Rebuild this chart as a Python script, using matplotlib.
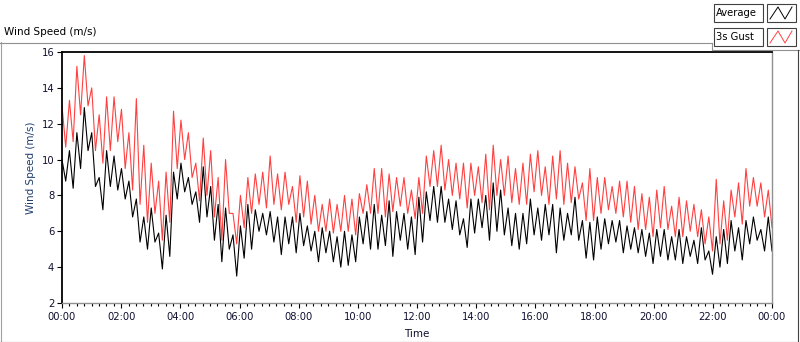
import numpy as np
import matplotlib
matplotlib.use("Agg")
import matplotlib.pyplot as plt
from matplotlib.patches import Rectangle
from matplotlib.lines import Line2D

W, H = 800, 342

# wind speed, 15 minute bins (low / high of the trace in each bin)
bin_hours = 0.25
avg_low = [8.8, 8.4, 9.5, 10.5, 8.5, 7.2, 8.5, 8.3, 7.8, 6.8, 5.4, 5.0,
           5.4, 3.9, 4.6, 7.8, 8.2, 7.5, 6.5, 6.8, 5.5, 4.3, 5.0, 3.5,
           4.5, 5.0, 6.0, 5.8, 5.4, 4.7, 5.3, 4.8, 5.2, 4.9, 4.3, 4.8,
           4.3, 4.0, 4.1, 4.3, 5.3, 5.0, 5.0, 5.2, 4.6, 5.5, 5.0, 4.7,
           5.4, 6.6, 6.5, 6.5, 6.1, 5.8, 5.1, 5.9, 6.2, 5.5, 6.0, 5.8,
           5.2, 5.0, 5.3, 5.8, 5.5, 5.8, 4.8, 5.5, 5.8, 5.5, 4.5, 4.4,
           5.0, 5.3, 5.4, 4.8, 5.0, 4.8, 4.6, 4.2, 4.6, 4.4, 4.4, 4.2,
           4.6, 4.2, 4.4, 3.6, 4.0, 4.2, 4.9, 4.4, 5.3, 5.5, 4.9, 4.9]
avg_high = [10.0, 10.5, 11.5, 12.9, 11.5, 9.0, 10.5, 10.2, 9.5, 8.8, 7.8, 6.8,
            7.3, 5.9, 6.9, 9.3, 9.8, 9.0, 8.2, 9.6, 8.5, 7.5, 7.3, 5.8,
            6.3, 7.5, 7.2, 7.0, 7.1, 6.8, 6.8, 6.8, 7.0, 6.3, 6.0, 6.2,
            6.0, 5.7, 6.0, 5.8, 6.8, 7.1, 7.5, 6.9, 7.7, 7.1, 7.0, 6.8,
            7.9, 8.2, 8.5, 8.5, 7.8, 7.7, 6.7, 7.8, 7.8, 8.0, 8.7, 8.3,
            7.3, 7.0, 7.0, 7.8, 7.3, 7.5, 7.5, 7.3, 7.0, 7.9, 6.6, 6.5,
            6.8, 6.7, 6.6, 6.6, 6.3, 6.2, 6.1, 5.9, 6.1, 6.1, 5.7, 6.1,
            5.7, 5.5, 6.2, 4.9, 5.7, 6.1, 6.6, 6.2, 6.6, 6.8, 6.1, 6.8]
gust_low = [10.7, 11.0, 12.5, 13.0, 10.5, 9.8, 10.5, 11.0, 9.5, 8.3, 7.5, 6.5,
            7.0, 5.5, 6.5, 9.5, 10.0, 9.0, 7.7, 8.0, 6.8, 5.5, 7.0, 5.3,
            6.2, 7.0, 7.5, 7.3, 7.5, 7.2, 7.5, 6.5, 6.8, 6.4, 6.0, 6.0,
            5.9, 6.0, 6.0, 5.8, 7.0, 7.0, 7.0, 6.8, 7.1, 7.4, 7.0, 6.7,
            7.0, 8.5, 8.5, 8.3, 8.0, 7.8, 7.3, 8.0, 7.6, 7.2, 8.0, 8.0,
            7.6, 7.5, 7.5, 8.2, 8.0, 7.5, 7.8, 7.5, 7.6, 7.8, 6.6, 6.6,
            7.0, 7.2, 7.0, 6.8, 6.5, 6.1, 6.1, 5.7, 6.2, 6.1, 5.7, 5.7,
            6.0, 5.7, 5.3, 4.9, 5.3, 5.5, 6.8, 6.4, 7.4, 7.4, 6.8, 6.2]
gust_high = [13.0, 13.3, 15.2, 15.8, 14.0, 12.5, 13.5, 13.5, 12.8, 11.5, 13.4, 10.8,
             9.8, 8.8, 9.3, 12.7, 12.2, 11.5, 9.8, 11.2, 10.5, 9.0, 10.0, 7.0,
             8.0, 9.0, 9.2, 9.3, 10.2, 9.2, 9.3, 8.5, 9.1, 8.8, 8.0, 7.5,
             7.8, 7.5, 8.0, 7.8, 8.1, 8.6, 9.5, 9.5, 9.2, 9.0, 9.0, 8.3,
             9.0, 10.2, 10.5, 10.8, 10.0, 9.8, 9.8, 9.8, 9.6, 10.3, 10.8, 10.0,
             10.2, 9.5, 9.8, 10.3, 10.5, 9.6, 10.2, 10.5, 9.8, 9.6, 8.7, 9.5,
             9.0, 9.0, 8.5, 8.8, 8.8, 8.5, 8.1, 7.9, 8.3, 8.5, 7.4, 7.9,
             7.7, 7.5, 7.2, 6.8, 8.9, 7.7, 8.3, 8.7, 9.5, 9.0, 8.7, 8.3]

tick_hours = list(range(0, 25, 2))
tick_labels = ["00:00", "02:00", "04:00", "06:00", "08:00", "10:00", "12:00",
               "14:00", "16:00", "18:00", "20:00", "22:00", "00:00"]
series_names = ["Average", "3s Gust"]
series_colors = ["black", "#ff4040"]


def fx(px):
    return px / W


def fy(py):
    return 1 - py / H


def zigzag(lo, hi):
    # walk high/low of every bin so the trace keeps its spread
    vals = []
    for a, b in zip(hi, lo):
        vals += [a, b]
    t = np.linspace(0, len(lo) * bin_hours, len(vals))
    return t, np.array(vals)


plt.rcParams['font.family'] = ['DejaVu Sans']
fig = plt.figure(figsize=(W / 100, H / 100), dpi=100)

ax = fig.add_axes([fx(62), fy(303), fx(772) - fx(62), fy(52) - fy(303)])
t, v = zigzag(gust_low, gust_high)
ax.plot(t, v, color=series_colors[1], lw=0.8)
t, v = zigzag(avg_low, avg_high)
ax.plot(t, v, color=series_colors[0], lw=0.8)

ax.set_xlim(0, 24)
ax.set_ylim(2, 16)
ax.set_xticks(tick_hours)
ax.set_xticklabels(tick_labels)
ax.set_xticks(np.arange(0, 24.01, 0.25), minor=True)
ax.set_yticks(range(2, 17, 2))
ax.tick_params(axis='x', which='major', length=3.6, width=0.8, pad=3, labelsize=7.2,
               labelcolor='#101030')
ax.tick_params(axis='x', which='minor', length=1.8, width=0.8)
ax.tick_params(axis='y', length=3.6, width=0.8, pad=2, labelsize=7.2, labelcolor='#101030')
for side in ['top', 'left']:
    ax.spines[side].set_color('black')
    ax.spines[side].set_linewidth(1.3)
for side in ['right', 'bottom']:
    ax.spines[side].set_color('#909090')
    ax.spines[side].set_linewidth(1.0)

fig.text(fx(31), fy(168), "Wind Speed (m/s)", rotation=90, ha='center', va='center',
         fontsize=7.5, color='#1f3d6e')
fig.text(fx(417), fy(334), "Time", ha='center', va='center', fontsize=7.5, color='#101030')
fig.text(fx(4), fy(32), "Wind Speed (m/s)", ha='left', va='center', fontsize=7.5, color='black')

# outer panel frame
fig.add_artist(Line2D([fx(0.5), fx(0.5)], [fy(42), fy(341)], color='#a0a0a0', lw=0.8))
fig.add_artist(Line2D([fx(0), fx(712)], [fy(42.5), fy(42.5)], color='#909090', lw=0.8))
fig.add_artist(Line2D([fx(712), fx(712)], [fy(42.5), fy(49.5)], color='#909090', lw=0.8))
fig.add_artist(Line2D([fx(712), fx(800)], [fy(49.5), fy(49.5)], color='#909090', lw=0.8))
fig.add_artist(Line2D([fx(797.5), fx(797.5)], [fy(49.5), fy(341.5)], color='#404040', lw=0.8))
fig.add_artist(Line2D([fx(0), fx(798)], [fy(341.5), fy(341.5)], color='#404040', lw=0.8))

# legend boxes
for i, (name, col) in enumerate(zip(series_names, series_colors)):
    top = 4 + i * 24
    fig.add_artist(Rectangle((fx(714), fy(top + 18)), fx(763) - fx(714), fy(top) - fy(top + 18),
                             facecolor='white', edgecolor='#404040', lw=0.8))
    fig.add_artist(Rectangle((fx(767), fy(top + 18)), fx(796) - fx(767), fy(top) - fy(top + 18),
                             facecolor='white', edgecolor='#404040', lw=0.8))
    fig.text(fx(716), fy(top + 9), name, ha='left', va='center', fontsize=7.2, color='black')
    zx = [770, 778, 785, 792]
    zy = [top + 15, top + 3, top + 15, top + 3]
    fig.add_artist(Line2D([fx(p) for p in zx], [fy(p) for p in zy], color=col, lw=0.7))

fig.savefig("out.png", dpi=100)
